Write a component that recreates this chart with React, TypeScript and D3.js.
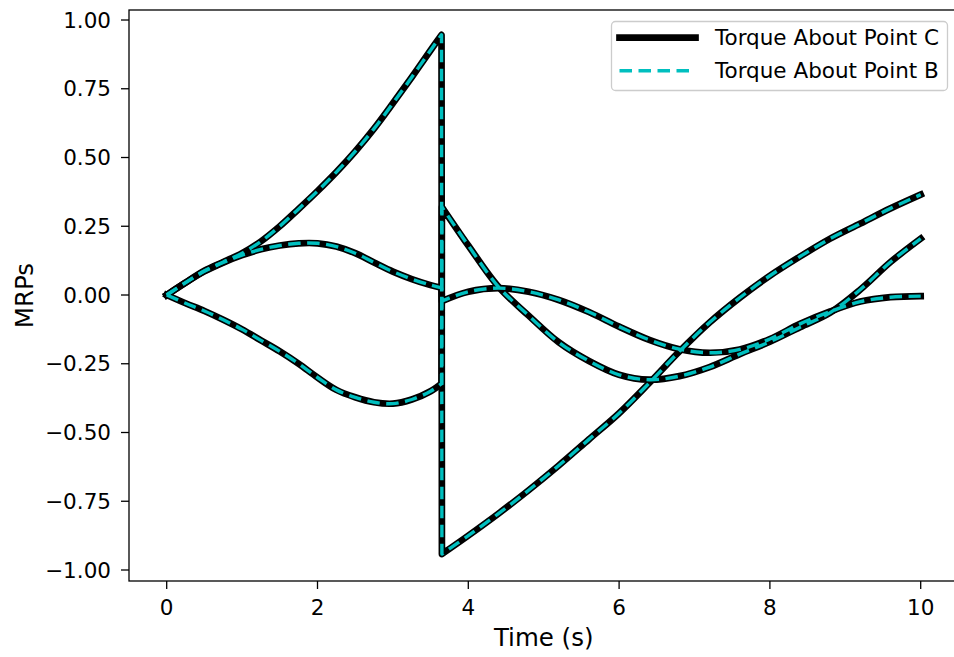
import React from 'react';
import * as d3 from 'd3';

// time samples before and after the MRP shadow-set switch
const timePre = [0, 0.25, 0.5, 0.75, 1, 1.25, 1.5, 1.75, 2, 2.25, 2.5, 2.75, 3, 3.25, 3.5, 3.645];
const timePost = [3.65, 4, 4.4, 4.8, 5.2, 5.6, 6, 6.4, 6.8, 7.2, 7.6, 8, 8.4, 8.8, 9.2, 9.6, 10];

const mrp1Pre = [0, 0.045, 0.088, 0.12, 0.152, 0.195, 0.25, 0.313, 0.378, 0.447, 0.522, 0.605, 0.697, 0.792, 0.89, 0.946];
const mrp1Post = [-0.942, -0.875, -0.795, -0.71, -0.62, -0.525, -0.43, -0.32, -0.205, -0.1, -0.01, 0.07, 0.14, 0.205, 0.26, 0.315, 0.365];

const mrp2Pre = [0, 0.045, 0.086, 0.118, 0.145, 0.166, 0.18, 0.188, 0.188, 0.176, 0.152, 0.118, 0.085, 0.058, 0.036, 0.026];
const mrp2Post = [-0.022, 0.012, 0.025, 0.012, -0.018, -0.062, -0.115, -0.163, -0.197, -0.21, -0.198, -0.16, -0.105, -0.06, -0.024, -0.008, -0.004];

const mrp3Pre = [0, -0.03, -0.058, -0.09, -0.125, -0.165, -0.205, -0.25, -0.3, -0.345, -0.372, -0.39, -0.395, -0.38, -0.35, -0.322];
const mrp3Post = [0.32, 0.18, 0.03, -0.075, -0.172, -0.24, -0.29, -0.308, -0.295, -0.262, -0.215, -0.17, -0.117, -0.064, 0.02, 0.12, 0.205];

const torqueC = [
  { pre: mrp1Pre, post: mrp1Post },
  { pre: mrp2Pre, post: mrp2Post },
  { pre: mrp3Pre, post: mrp3Post },
];
const torqueB = [
  { pre: mrp1Pre, post: mrp1Post },
  { pre: mrp2Pre, post: mrp2Post },
  { pre: mrp3Pre, post: mrp3Post },
];

const xTicks = [0, 2, 4, 6, 8, 10];
const yTicks = [-1, -0.75, -0.5, -0.25, 0, 0.25, 0.5, 0.75, 1];
const legendLabels = ['Torque About Point C', 'Torque About Point B'];

const W = 954;
const H = 657;
const L = 129;
const R = 958.4;
const T = 10;
const B = 581;
const FONT = 'DejaVu Sans, sans-serif';
const FS = 21.5;
const FS_LABEL = 24.5;
const CYAN = '#00bfbf';

export default function App() {
  const x = d3.scaleLinear().domain([-0.5, 10.5]).range([L, R]);
  const y = d3.scaleLinear().domain([-1.04, 1.0364]).range([B, T]);
  const line = d3
    .line<[number, number]>()
    .x((d) => x(d[0]))
    .y((d) => y(d[1]))
    .curve(d3.curveCatmullRom.alpha(0.5));

  const pathFor = (s: { pre: number[]; post: number[] }) => {
    const a = line(timePre.map((t, i) => [t, s.pre[i]] as [number, number])) || '';
    const b = line(timePost.map((t, i) => [t, s.post[i]] as [number, number])) || '';
    return a + 'L' + b.slice(1);
  };

  const fmt = d3.format('.2f');

  return (
    <svg
      width={W}
      height={H}
      style={{ position: 'absolute', left: 0, top: 0, background: '#fff' }}
      fontFamily={FONT}
    >
      <defs>
        <clipPath id="plotclip">
          <rect x={L} y={T} width={R - L} height={B - T} />
        </clipPath>
      </defs>
      <rect x={0} y={0} width={W} height={H} fill="#fff" />
      <g clipPath="url(#plotclip)">
        {torqueC.map((s, i) => (
          <path
            key={'c' + i}
            d={pathFor(s)}
            fill="none"
            stroke="#000"
            strokeWidth={6.7}
            strokeLinejoin="round"
            strokeLinecap="square"
          />
        ))}
        {torqueB.map((s, i) => (
          <path
            key={'b' + i}
            d={pathFor(s)}
            fill="none"
            stroke={CYAN}
            strokeWidth={3.4}
            strokeDasharray="12.5,6.5"
            strokeLinejoin="round"
            strokeLinecap="butt"
          />
        ))}
      </g>
      {/* spines */}
      <rect x={L} y={T} width={R - L} height={B - T} fill="none" stroke="#000" strokeWidth={1.3} />
      {/* x ticks */}
      {xTicks.map((t) => (
        <g key={'x' + t}>
          <line x1={x(t)} x2={x(t)} y1={B} y2={B + 8} stroke="#000" strokeWidth={1.3} />
          <text x={x(t)} y={615} fontSize={FS} textAnchor="middle" fill="#000">
            {t}
          </text>
        </g>
      ))}
      {/* y ticks */}
      {yTicks.map((t) => (
        <g key={'y' + t}>
          <line x1={L - 8} x2={L} y1={y(t)} y2={y(t)} stroke="#000" strokeWidth={1.3} />
          <text x={111} y={y(t) + 7.7} fontSize={FS} textAnchor="end" fill="#000">
            {fmt(t)}
          </text>
        </g>
      ))}
      <text x={(L + R) / 2} y={646} fontSize={FS_LABEL} textAnchor="middle" fill="#000">
        Time (s)
      </text>
      <text
        transform={`translate(32.5, ${(T + B) / 2}) rotate(-90)`}
        fontSize={FS_LABEL}
        textAnchor="middle"
        fill="#000"
      >
        MRPs
      </text>
      {/* legend */}
      <rect
        x={611.5}
        y={21.5}
        width={336}
        height={69}
        rx={4}
        ry={4}
        fill="#fff"
        fillOpacity={0.8}
        stroke="#cccccc"
        strokeWidth={1.3}
      />
      <line x1={619.5} x2={695.5} y1={37.7} y2={37.7} stroke="#000" strokeWidth={6.7} strokeLinecap="square" />
      <line
        x1={619.5}
        x2={695.5}
        y1={70.7}
        y2={70.7}
        stroke={CYAN}
        strokeWidth={3.4}
        strokeDasharray="12.5,6.5"
        strokeLinecap="butt"
      />
      {legendLabels.map((lab, i) => (
        <text key={lab} x={715} y={37.7 + 33 * i + 7.7} fontSize={FS} fill="#000">
          {lab}
        </text>
      ))}
    </svg>
  );
}
